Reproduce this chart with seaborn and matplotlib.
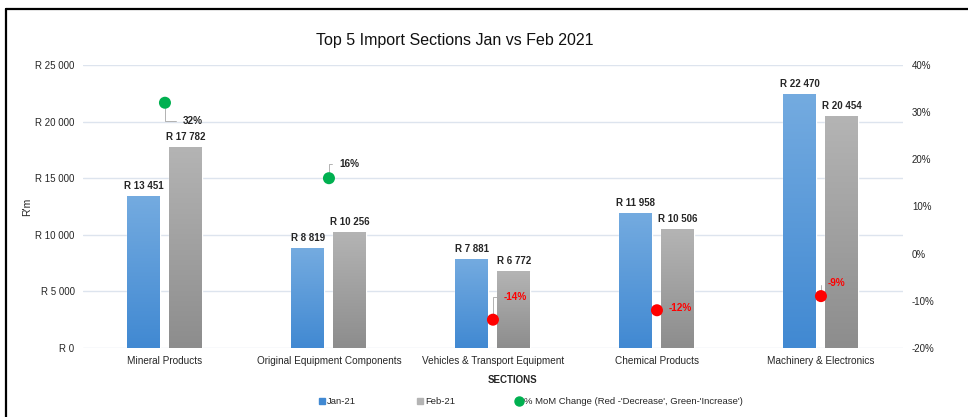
import numpy as np
import pandas as pd
import seaborn as sns
import matplotlib.pyplot as plt
from matplotlib.lines import Line2D

sns.set_theme(style="white")
plt.rcParams["font.family"] = ["Liberation Sans", "DejaVu Sans"]


# =========================
# Data
# =========================
sections = [
    "Mineral Products",
    "Original Equipment Components",
    "Vehicles & Transport Equipment",
    "Chemical Products",
    "Machinery & Electronics",
]
jan21 = [13451, 8819, 7881, 11958, 22470]
feb21 = [17782, 10256, 6772, 10506, 20454]
mom_change = [32, 16, -14, -12, -9]

left_ticks = [0, 5000, 10000, 15000, 20000, 25000]
left_tick_labels = ["R 0", "R 5 000", "R 10 000", "R 15 000", "R 20 000", "R 25 000"]
right_ticks = [-20, -10, 0, 10, 20, 30, 40]
right_tick_labels = ["-20%", "-10%", "0%", "10%", "20%", "30%", "40%"]

# label offsets (pixels) for the % labels
label_offsets = [(18, -18), (10, 14), (11, 23), (12, 2), (7, 13)]

df = pd.DataFrame({"Section": sections * 2,
                   "Period": ["Jan-21"] * 5 + ["Feb-21"] * 5,
                   "Value": jan21 + feb21})

jan_grad = ("#74abe0", "#4189d2")
feb_grad = ("#b4b4b4", "#8d8d8d")
grid_col = "#dde4ee"
text_col = "#262626"


# =========================
# Figure
# =========================
fig = plt.figure(figsize=(9.68, 4.17), dpi=100)
ax = fig.add_axes([0.0857, 0.1655, 0.8471, 0.6786])

sns.barplot(data=df, x="Section", y="Value", hue="Period",
            palette={"Jan-21": jan_grad[1], "Feb-21": feb_grad[1]},
            width=0.512, gap=0.215, legend=False, ax=ax, zorder=2)

# vertical gradient fill on each bar
n = len(sections)
for i, bar in enumerate(ax.patches):
    x0, y0 = bar.get_x(), bar.get_y()
    w, h = bar.get_width(), bar.get_height()
    if h <= 0:
        continue
    cols = jan_grad if i < n else feb_grad
    cmap = sns.blend_palette([cols[1], cols[0]], as_cmap=True)
    grad = np.linspace(0, 1, 100).reshape(-1, 1)
    im = ax.imshow(grad, extent=[x0, x0 + w, y0, y0 + h], origin="lower",
                   aspect="auto", cmap=cmap, zorder=2.5)
    im.set_clip_path(bar)

# value labels
for bar in ax.patches:
    h = bar.get_height()
    if h <= 0:
        continue
    txt = "R " + f"{int(h):,}".replace(",", " ")
    ax.annotate(txt, (bar.get_x() + bar.get_width() / 2, h),
                xytext=(0, 5), textcoords="offset pixels",
                ha="center", va="bottom", fontsize=7, fontweight="bold",
                color=text_col)

ax.set_xlim(-0.5, 4.5)
ax.set_ylim(0, 25000)
ax.set_yticks(left_ticks)
ax.set_yticklabels(left_tick_labels, fontsize=7, color=text_col)
ax.tick_params(axis="y", length=0, pad=6)
ax.tick_params(axis="x", length=0, pad=6, labelsize=7.2, labelcolor=text_col)
ax.set_ylabel("R'm", fontsize=7.5, color=text_col, labelpad=2)
ax.set_xlabel("SECTIONS", fontsize=7, fontweight="bold", color=text_col)
ax.xaxis.set_label_coords((513 - 83) / 820, -0.095)
ax.grid(axis="y", color=grid_col, lw=1, zorder=0)
ax.set_axisbelow(True)
for s in ax.spines.values():
    s.set_visible(False)

# secondary axis for % change
ax2 = ax.twinx()
ax2.set_ylim(-20, 40)
ax2.set_yticks(right_ticks)
ax2.set_yticklabels(right_tick_labels, fontsize=7, color=text_col)
ax2.tick_params(axis="y", length=0, pad=6.5)
for s in ax2.spines.values():
    s.set_visible(False)

dot_cols = ["#00b050" if v > 0 else "#ff0000" for v in mom_change]
sns.scatterplot(x=list(range(n)), y=mom_change, hue=list(range(n)),
                palette=dot_cols, s=75, edgecolor="none", legend=False,
                ax=ax2, zorder=5)

for i, v in enumerate(mom_change):
    col = text_col if v > 0 else "#ff0000"
    ax2.annotate(f"{v}%", (i, v), xytext=label_offsets[i], textcoords="offset pixels",
                 ha="left", va="center", fontsize=7.2, fontweight="bold", color=col,
                 arrowprops=dict(arrowstyle="-", color="#a6a6a6", lw=0.6,
                                 shrinkA=3, shrinkB=4, relpos=(0, 0.5),
                                 connectionstyle="angle,angleA=0,angleB=90,rad=0"))

# title
fig.text(0.47, 0.902, "Top 5 Import Sections Jan vs Feb 2021",
         ha="center", va="center", fontsize=11.5, color="#111111")

# legend
handles = [
    Line2D([], [], marker="s", ls="", color=jan_grad[1], markersize=4, label="Jan-21"),
    Line2D([], [], marker="s", ls="", color=feb_grad[0], markersize=4, label="Feb-21"),
    Line2D([], [], marker="o", ls="", color="#00b050", markersize=6.5,
           label="% MoM Change (Red -'Decrease', Green-'Increase')"),
]
fig.legend(handles=handles, loc="center", bbox_to_anchor=(0.548, 0.037), ncol=3,
           frameon=False, fontsize=6.8, handletextpad=0.2, columnspacing=6.3,
           handlelength=0.8)

# outer frame (screenshot border)
fig.add_artist(Line2D([0.0062, 1.0], [0.979, 0.979], transform=fig.transFigure,
                      color="black", lw=1.6))
fig.add_artist(Line2D([0.0062, 0.0062], [0.0, 0.979], transform=fig.transFigure,
                      color="black", lw=1.6))

fig.savefig("out.png", dpi=100)
